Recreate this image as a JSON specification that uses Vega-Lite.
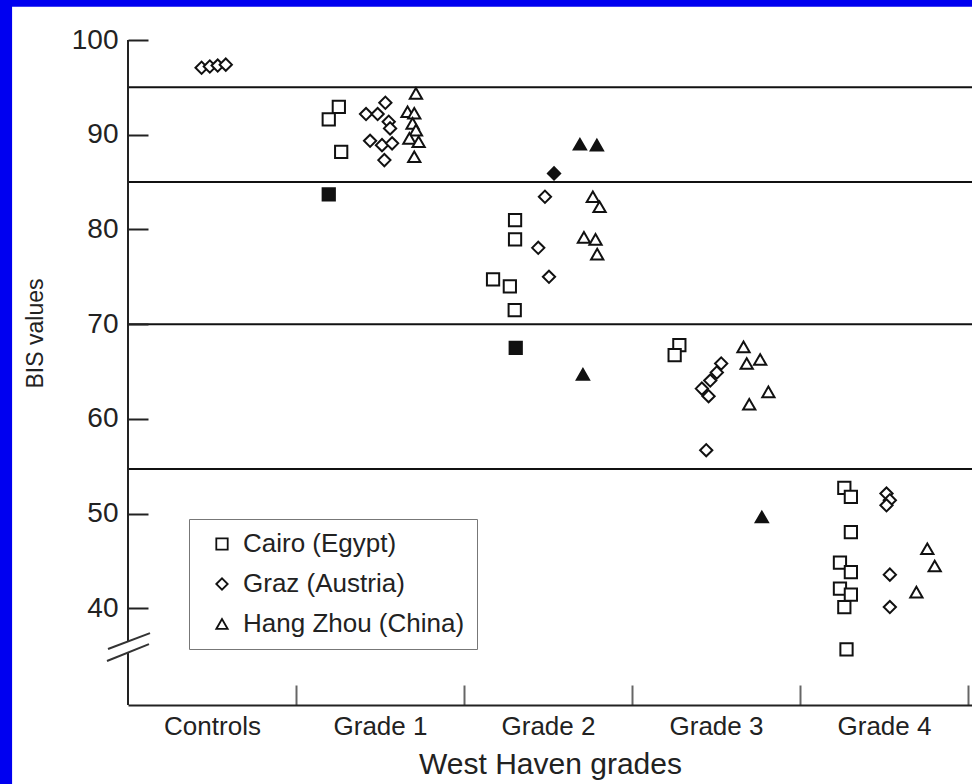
{
  "$schema": "https://vega.github.io/schema/vega-lite/v6.json",
  "width": 844,
  "height": 665,
  "autosize": {"type": "none"},
  "padding": {"left": 128, "top": 40, "right": 0, "bottom": 79},
  "background": "#0000f0",
  "config": {
    "font": "Liberation Sans",
    "view": {"stroke": null},
    "axis": {"labelColor": "#222", "titleColor": "#222", "titleFontWeight": "normal", "grid": false}
  },
  "datasets": {
    "points": [
      {"grade": "Controls", "site": "Graz (Austria)", "solid": "open", "pos": 0.438, "bis": 97.07},
      {"grade": "Controls", "site": "Graz (Austria)", "solid": "open", "pos": 0.487, "bis": 97.2},
      {"grade": "Controls", "site": "Graz (Austria)", "solid": "open", "pos": 0.534, "bis": 97.3},
      {"grade": "Controls", "site": "Graz (Austria)", "solid": "open", "pos": 0.582, "bis": 97.4},

      {"grade": "Grade 1", "site": "Cairo (Egypt)", "solid": "open", "pos": 1.255, "bis": 92.95},
      {"grade": "Grade 1", "site": "Cairo (Egypt)", "solid": "open", "pos": 1.195, "bis": 91.62},
      {"grade": "Grade 1", "site": "Cairo (Egypt)", "solid": "open", "pos": 1.269, "bis": 88.2},
      {"grade": "Grade 1", "site": "Cairo (Egypt)", "solid": "solid", "pos": 1.195, "bis": 83.7},
      {"grade": "Grade 1", "site": "Graz (Austria)", "solid": "open", "pos": 1.532, "bis": 93.38},
      {"grade": "Grade 1", "site": "Graz (Austria)", "solid": "open", "pos": 1.417, "bis": 92.18},
      {"grade": "Grade 1", "site": "Graz (Austria)", "solid": "open", "pos": 1.486, "bis": 92.18},
      {"grade": "Grade 1", "site": "Graz (Austria)", "solid": "open", "pos": 1.552, "bis": 91.37},
      {"grade": "Grade 1", "site": "Graz (Austria)", "solid": "open", "pos": 1.56, "bis": 90.67},
      {"grade": "Grade 1", "site": "Graz (Austria)", "solid": "open", "pos": 1.441, "bis": 89.36},
      {"grade": "Grade 1", "site": "Graz (Austria)", "solid": "open", "pos": 1.512, "bis": 88.9},
      {"grade": "Grade 1", "site": "Graz (Austria)", "solid": "open", "pos": 1.572, "bis": 89.09},
      {"grade": "Grade 1", "site": "Graz (Austria)", "solid": "open", "pos": 1.526, "bis": 87.32},
      {"grade": "Grade 1", "site": "Hang Zhou (China)", "solid": "open", "pos": 1.714, "bis": 94.37},
      {"grade": "Grade 1", "site": "Hang Zhou (China)", "solid": "open", "pos": 1.664, "bis": 92.43},
      {"grade": "Grade 1", "site": "Hang Zhou (China)", "solid": "open", "pos": 1.704, "bis": 92.26},
      {"grade": "Grade 1", "site": "Hang Zhou (China)", "solid": "open", "pos": 1.694, "bis": 91.2},
      {"grade": "Grade 1", "site": "Hang Zhou (China)", "solid": "open", "pos": 1.714, "bis": 90.49},
      {"grade": "Grade 1", "site": "Hang Zhou (China)", "solid": "open", "pos": 1.675, "bis": 89.62},
      {"grade": "Grade 1", "site": "Hang Zhou (China)", "solid": "open", "pos": 1.73, "bis": 89.26},
      {"grade": "Grade 1", "site": "Hang Zhou (China)", "solid": "open", "pos": 1.704, "bis": 87.67},

      {"grade": "Grade 2", "site": "Cairo (Egypt)", "solid": "open", "pos": 2.304, "bis": 80.99},
      {"grade": "Grade 2", "site": "Cairo (Egypt)", "solid": "open", "pos": 2.304, "bis": 78.95},
      {"grade": "Grade 2", "site": "Cairo (Egypt)", "solid": "open", "pos": 2.173, "bis": 74.72},
      {"grade": "Grade 2", "site": "Cairo (Egypt)", "solid": "open", "pos": 2.273, "bis": 74.0},
      {"grade": "Grade 2", "site": "Cairo (Egypt)", "solid": "open", "pos": 2.302, "bis": 71.48},
      {"grade": "Grade 2", "site": "Cairo (Egypt)", "solid": "solid", "pos": 2.308, "bis": 67.5},
      {"grade": "Grade 2", "site": "Graz (Austria)", "solid": "open", "pos": 2.482, "bis": 83.45},
      {"grade": "Grade 2", "site": "Graz (Austria)", "solid": "open", "pos": 2.442, "bis": 78.06},
      {"grade": "Grade 2", "site": "Graz (Austria)", "solid": "open", "pos": 2.506, "bis": 75.0},
      {"grade": "Grade 2", "site": "Graz (Austria)", "solid": "solid", "pos": 2.536, "bis": 85.92},
      {"grade": "Grade 2", "site": "Hang Zhou (China)", "solid": "open", "pos": 2.767, "bis": 83.45},
      {"grade": "Grade 2", "site": "Hang Zhou (China)", "solid": "open", "pos": 2.807, "bis": 82.39},
      {"grade": "Grade 2", "site": "Hang Zhou (China)", "solid": "open", "pos": 2.714, "bis": 79.16},
      {"grade": "Grade 2", "site": "Hang Zhou (China)", "solid": "open", "pos": 2.783, "bis": 78.95},
      {"grade": "Grade 2", "site": "Hang Zhou (China)", "solid": "open", "pos": 2.793, "bis": 77.4},
      {"grade": "Grade 2", "site": "Hang Zhou (China)", "solid": "solid", "pos": 2.69, "bis": 89.0},
      {"grade": "Grade 2", "site": "Hang Zhou (China)", "solid": "solid", "pos": 2.791, "bis": 88.9},
      {"grade": "Grade 2", "site": "Hang Zhou (China)", "solid": "solid", "pos": 2.708, "bis": 64.7},

      {"grade": "Grade 3", "site": "Cairo (Egypt)", "solid": "open", "pos": 3.282, "bis": 67.78},
      {"grade": "Grade 3", "site": "Cairo (Egypt)", "solid": "open", "pos": 3.254, "bis": 66.73},
      {"grade": "Grade 3", "site": "Graz (Austria)", "solid": "open", "pos": 3.531, "bis": 65.85},
      {"grade": "Grade 3", "site": "Graz (Austria)", "solid": "open", "pos": 3.505, "bis": 64.9},
      {"grade": "Grade 3", "site": "Graz (Austria)", "solid": "open", "pos": 3.466, "bis": 64.05},
      {"grade": "Grade 3", "site": "Graz (Austria)", "solid": "open", "pos": 3.416, "bis": 63.2},
      {"grade": "Grade 3", "site": "Graz (Austria)", "solid": "open", "pos": 3.456, "bis": 62.4},
      {"grade": "Grade 3", "site": "Graz (Austria)", "solid": "open", "pos": 3.442, "bis": 56.7},
      {"grade": "Grade 3", "site": "Hang Zhou (China)", "solid": "open", "pos": 3.664, "bis": 67.6},
      {"grade": "Grade 3", "site": "Hang Zhou (China)", "solid": "open", "pos": 3.683, "bis": 65.85},
      {"grade": "Grade 3", "site": "Hang Zhou (China)", "solid": "open", "pos": 3.763, "bis": 66.27},
      {"grade": "Grade 3", "site": "Hang Zhou (China)", "solid": "open", "pos": 3.812, "bis": 62.85},
      {"grade": "Grade 3", "site": "Hang Zhou (China)", "solid": "open", "pos": 3.698, "bis": 61.55},
      {"grade": "Grade 3", "site": "Hang Zhou (China)", "solid": "solid", "pos": 3.773, "bis": 49.65},

      {"grade": "Grade 4", "site": "Cairo (Egypt)", "solid": "open", "pos": 4.264, "bis": 52.71},
      {"grade": "Grade 4", "site": "Cairo (Egypt)", "solid": "open", "pos": 4.303, "bis": 51.76},
      {"grade": "Grade 4", "site": "Cairo (Egypt)", "solid": "open", "pos": 4.303, "bis": 48.06},
      {"grade": "Grade 4", "site": "Cairo (Egypt)", "solid": "open", "pos": 4.238, "bis": 44.82},
      {"grade": "Grade 4", "site": "Cairo (Egypt)", "solid": "open", "pos": 4.303, "bis": 43.83},
      {"grade": "Grade 4", "site": "Cairo (Egypt)", "solid": "open", "pos": 4.238, "bis": 42.08},
      {"grade": "Grade 4", "site": "Cairo (Egypt)", "solid": "open", "pos": 4.303, "bis": 41.45},
      {"grade": "Grade 4", "site": "Cairo (Egypt)", "solid": "open", "pos": 4.264, "bis": 40.14},
      {"grade": "Grade 4", "site": "Cairo (Egypt)", "solid": "open", "pos": 4.277, "bis": 35.67},
      {"grade": "Grade 4", "site": "Graz (Austria)", "solid": "open", "pos": 4.515, "bis": 52.12},
      {"grade": "Grade 4", "site": "Graz (Austria)", "solid": "open", "pos": 4.535, "bis": 51.41},
      {"grade": "Grade 4", "site": "Graz (Austria)", "solid": "open", "pos": 4.515, "bis": 50.88},
      {"grade": "Grade 4", "site": "Graz (Austria)", "solid": "open", "pos": 4.535, "bis": 43.56},
      {"grade": "Grade 4", "site": "Graz (Austria)", "solid": "open", "pos": 4.535, "bis": 40.14},
      {"grade": "Grade 4", "site": "Hang Zhou (China)", "solid": "open", "pos": 4.758, "bis": 46.3},
      {"grade": "Grade 4", "site": "Hang Zhou (China)", "solid": "open", "pos": 4.802, "bis": 44.47},
      {"grade": "Grade 4", "site": "Hang Zhou (China)", "solid": "open", "pos": 4.693, "bis": 41.72}
    ],
    "bands": [{"bis": 95}, {"bis": 85}, {"bis": 70}, {"bis": 54.7}],
    "axisline": [{"lo": 29.8, "hi": 35.34}, {"lo": 36.55, "hi": 100}],
    "breaks": [
      {"ax": -0.119, "ay": 35.71, "bx": 0.131, "by": 37.39},
      {"ax": -0.125, "ay": 34.44, "bx": 0.125, "by": 36.23}
    ],
    "panel": [{"left": -0.69, "right": 5.5, "top": 103.5, "bottom": 15}]
  },
  "layer": [
    {
      "data": {"name": "panel"},
      "mark": {"type": "rect", "fill": "white", "zindex": 0},
      "encoding": {
        "x": {"field": "left", "type": "quantitative", "scale": {"domain": [0, 5.024], "nice": false, "zero": false}},
        "x2": {"field": "right"},
        "y": {"field": "top", "type": "quantitative", "scale": {"domain": [29.8, 100], "nice": false, "zero": false}},
        "y2": {"field": "bottom"}
      }
    },
    {
      "data": {"name": "bands"},
      "mark": {"type": "rule", "color": "#111", "strokeWidth": 2},
      "encoding": {"y": {"field": "bis", "type": "quantitative"}}
    },
    {
      "data": {"name": "axisline"},
      "mark": {"type": "rule", "color": "#222", "strokeWidth": 2},
      "encoding": {
        "x": {"datum": 0, "type": "quantitative"},
        "y": {"field": "lo", "type": "quantitative"},
        "y2": {"field": "hi"}
      }
    },
    {
      "data": {"name": "breaks"},
      "mark": {"type": "rule", "color": "#333", "strokeWidth": 2},
      "encoding": {
        "x": {"field": "ax", "type": "quantitative"},
        "x2": {"field": "bx"},
        "y": {"field": "ay", "type": "quantitative"},
        "y2": {"field": "by"}
      }
    },
    {
      "data": {"name": "points"},
      "mark": {"type": "point", "filled": true, "stroke": "#111", "strokeWidth": 2, "size": 150, "opacity": 1},
      "encoding": {
        "x": {
          "field": "pos", "type": "quantitative",
          "axis": {
            "zindex": 2,
            "values": [1, 2, 3, 4, 5],
            "labelExpr": "datum.value == 1 ? 'Controls' : datum.value == 2 ? 'Grade 1' : datum.value == 3 ? 'Grade 2' : datum.value == 4 ? 'Grade 3' : 'Grade 4'",
            "labelOffset": -84,
            "labelFontSize": 26,
            "labelPadding": 28,
            "labelFlush": false,
            "labelOverlap": false,
            "tickSize": -20,
            "tickWidth": 2,
            "tickColor": "#666",
            "domainColor": "#222",
            "domainWidth": 2,
            "title": "West Haven grades",
            "titleFontSize": 30,
            "titlePadding": 10
          }
        },
        "y": {
          "field": "bis", "type": "quantitative",
          "axis": {
            "zindex": 2,
            "values": [40, 50, 60, 70, 80, 90, 100],
            "labelFontSize": 28,
            "labelPadding": 30,
            "tickSize": -20,
            "tickWidth": 2,
            "tickColor": "#222",
            "domain": false,
            "title": "BIS values",
            "titleFontSize": 23,
            "titlePadding": 24,
            "titleY": 293
          }
        },
        "shape": {
          "field": "site", "type": "nominal",
          "scale": {"domain": ["Cairo (Egypt)", "Graz (Austria)", "Hang Zhou (China)"], "range": ["square", "diamond", "triangle-up"]},
          "legend": {
            "title": null,
            "orient": "none",
            "legendX": 61,
            "legendY": 479,
            "padding": 12,
            "strokeColor": "#777",
            "fillColor": "white",
            "symbolOffset": 8,
            "symbolSize": 130,
            "symbolStrokeWidth": 1.8,
            "symbolStrokeColor": "#111",
            "symbolFillColor": "white",
            "labelFontSize": 26,
            "labelLimit": 400,
            "labelColor": "#222",
            "labelOffset": 8,
            "rowPadding": 14
          }
        },
        "fill": {
          "field": "solid", "type": "nominal",
          "scale": {"domain": ["open", "solid"], "range": ["white", "#111"]},
          "legend": null
        }
      }
    }
  ]
}
